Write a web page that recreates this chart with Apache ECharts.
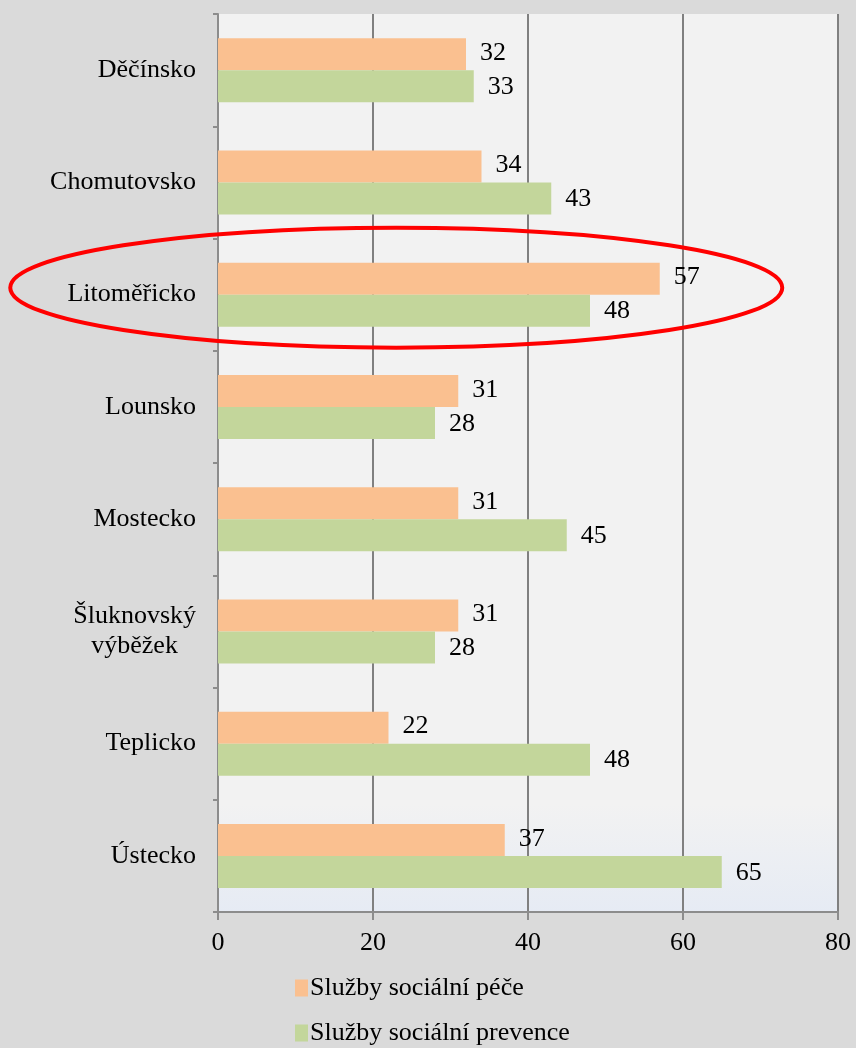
<!DOCTYPE html>
<html>
<head>
<meta charset="utf-8">
<script src="https://cdn.jsdelivr.net/npm/echarts@6/dist/echarts.min.js"></script>
<style>
  html, body { margin: 0; padding: 0; background: #dadada; }
  #chart { width: 856px; height: 1048px; }
</style>
</head>
<body>
<div id="chart"></div>
<script>
const categories = ['Děčínsko', 'Chomutovsko', 'Litoměřicko', 'Lounsko', 'Mostecko', 'Šluknovský\nvýběžek', 'Teplicko', 'Ústecko'];
const pece = [32, 34, 57, 31, 31, 31, 22, 37];
const prevence = [33, 43, 48, 28, 45, 28, 48, 65];
const seriesNames = ['Služby sociální péče', 'Služby sociální prevence'];
const highlighted = 'Litoměřicko';

const font = '"Liberation Serif", "Times New Roman", serif';
const fs = 26;
const chart = echarts.init(document.getElementById('chart'), null, { renderer: 'canvas' });

const barLabel = {
  show: true,
  position: 'right',
  distance: 14,
  color: '#000',
  fontFamily: font,
  fontSize: fs
};

// one legend per row, so each sits on its own line like the original
const legendRow = (name, top) => ({
  left: 290,
  top: top,
  itemWidth: 13,
  itemHeight: 17,
  itemGap: 0,
  icon: 'rect',
  textStyle: { fontFamily: font, fontSize: fs, color: '#000', padding: [0, 0, 0, -3] },
  data: [name]
});

chart.setOption({
  backgroundColor: '#dadada',
  animation: false,
  grid: {
    left: 218, right: 18, top: 14, bottom: 136,
    show: true,
    borderWidth: 0,
    backgroundColor: new echarts.graphic.LinearGradient(0, 0, 0, 1, [
      { offset: 0, color: '#f2f2f2' },
      { offset: 0.88, color: '#f2f2f2' },
      { offset: 1, color: '#e6ebf4' }
    ])
  },
  legend: [legendRow(seriesNames[0], 970), legendRow(seriesNames[1], 1015)],
  xAxis: {
    type: 'value',
    min: 0, max: 80, interval: 20,
    axisLine: { show: true, lineStyle: { color: '#8c8c8c', width: 2 } },
    axisTick: { show: true, length: 8, lineStyle: { color: '#8c8c8c', width: 2 } },
    splitLine: { show: true, lineStyle: { color: '#808080', width: 2 } },
    axisLabel: { color: '#000', fontFamily: font, fontSize: fs, margin: 18 }
  },
  yAxis: {
    type: 'category',
    inverse: true,
    data: categories,
    axisLine: { show: true, lineStyle: { color: '#8c8c8c', width: 2 } },
    axisTick: { show: true, length: 5, lineStyle: { color: '#8c8c8c', width: 2 } },
    axisLabel: {
      margin: 22,
      formatter: (v) => '{c|' + v + '}',
      rich: { c: { align: 'center', color: '#000', fontFamily: font, fontSize: fs, lineHeight: 30 } }
    }
  },
  series: [
    {
      name: seriesNames[0], type: 'bar', data: pece,
      barWidth: 32, barGap: '0%',
      itemStyle: { color: '#fac090' },
      label: Object.assign({}, barLabel, { offset: [0, -1] })
    },
    {
      name: seriesNames[1], type: 'bar', data: prevence,
      barWidth: 32, barGap: '0%',
      itemStyle: { color: '#c3d69b' },
      label: Object.assign({}, barLabel, { offset: [0, 1] })
    }
  ]
});

// red ellipse around the highlighted region
const cy = chart.convertToPixel({ yAxisIndex: 0 }, highlighted) - 7;
const cx = chart.convertToPixel({ xAxisIndex: 0 }, 23);
chart.setOption({
  graphic: [{
    type: 'ellipse',
    shape: { cx: cx, cy: cy, rx: 386, ry: 60 },
    style: { fill: 'none', stroke: '#ff0000', lineWidth: 4 },
    z: 100
  }]
});
</script>
</body>
</html>
